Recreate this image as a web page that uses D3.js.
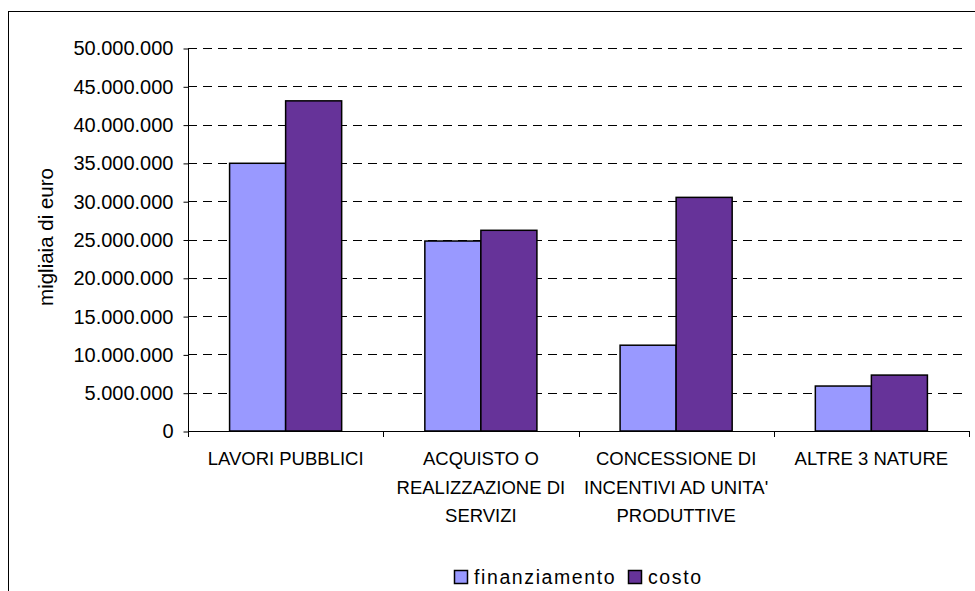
<!DOCTYPE html>
<html>
<head>
<meta charset="utf-8">
<script src="https://cdn.jsdelivr.net/npm/d3@7"></script>
<style>
  html, body { margin: 0; padding: 0; background: #fff; }
  svg { display: block; font-family: "Liberation Sans", Arial, sans-serif; }
</style>
</head>
<body>
<svg id="chart" width="975" height="591"></svg>
<script>
// Categories (each entry is the list of label lines under the axis)
const categories = ["LAVORI PUBBLICI", "ACQUISTO O REALIZZAZIONE DI SERVIZI", "CONCESSIONE DI INCENTIVI AD UNITA' PRODUTTIVE", "ALTRE 3 NATURE"];
const categoryLines = [
  ["LAVORI PUBBLICI"],
  ["ACQUISTO O", "REALIZZAZIONE DI", "SERVIZI"],
  ["CONCESSIONE DI", "INCENTIVI AD UNITA'", "PRODUTTIVE"],
  ["ALTRE 3 NATURE"]
];
const seriesNames = ["finanziamento", "costo"];
const finanziamento = [34950000, 24800000, 11200000, 5870000];
const costo = [43100000, 26200000, 30500000, 7300000];
const yTicks = [0, 5000000, 10000000, 15000000, 20000000, 25000000, 30000000, 35000000, 40000000, 45000000, 50000000];
const yTitle = "migliaia di euro";
const colors = ["#9999FF", "#663399"];

const svg = d3.select("#chart");

// Outer chart frame
svg.append("rect")
  .attr("x", 8.5).attr("y", 11.5)
  .attr("width", 1000).attr("height", 1000)
  .attr("fill", "none").attr("stroke", "#000").attr("stroke-width", 1);

const plot = { left: 188, right: 969, top: 48, bottom: 431 };

const y = d3.scaleLinear().domain([0, 50000000]).range([plot.bottom, plot.top]);
const x0 = d3.scaleBand().domain(categories).range([plot.left, plot.right]).paddingInner(0).paddingOuter(0);
const groupW = x0.bandwidth() * 0.574;
const x1 = d3.scaleBand().domain(seriesNames).range([0, groupW]).padding(0);

const fmt = v => d3.format(",")(v).replace(/,/g, ".");

// Dashed gridlines
svg.append("g")
  .selectAll("line")
  .data(yTicks.filter(t => t > 0))
  .join("line")
  .attr("x1", plot.left).attr("x2", 965)
  .attr("y1", d => Math.round(y(d)) + 0.5).attr("y2", d => Math.round(y(d)) + 0.5)
  .attr("stroke", "#000").attr("stroke-width", 1)
  .attr("stroke-dasharray", "9,6");

// Bars
const series = [finanziamento, costo];
const groups = svg.append("g")
  .selectAll("g")
  .data(categories)
  .join("g")
  .attr("transform", d => `translate(${x0(d) + (x0.bandwidth() - groupW) / 2},0)`);

groups.selectAll("rect")
  .data((d, i) => seriesNames.map((s, j) => ({ s, v: series[j][i], j })))
  .join("rect")
  .attr("x", d => x1(d.s))
  .attr("y", d => y(d.v))
  .attr("width", x1.bandwidth())
  .attr("height", d => y(0) - y(d.v))
  .attr("fill", d => colors[d.j])
  .attr("stroke", "#000")
  .attr("stroke-width", 1.5);

// Y axis
const yAxis = d3.axisLeft(y).tickValues(yTicks).tickFormat(fmt).tickSize(5).tickPadding(10);
const gy = svg.append("g").attr("transform", `translate(${plot.left + 0.5},0.5)`).call(yAxis);
gy.select(".domain").attr("stroke", "#000").attr("d", `M0,${plot.top}V${plot.bottom}`);
gy.selectAll(".tick line").attr("stroke", "#000");
gy.selectAll("text").attr("font-size", 20).attr("fill", "#000")
  .attr("font-family", "Liberation Sans, Arial, sans-serif");

// X axis
const boundaries = categories.map(c => x0(c)).concat([plot.right]);
const gx = svg.append("g");
gx.append("line")
  .attr("x1", plot.left).attr("x2", plot.right + 1)
  .attr("y1", plot.bottom + 0.5).attr("y2", plot.bottom + 0.5)
  .attr("stroke", "#000");
gx.selectAll("line.tick")
  .data(boundaries)
  .join("line")
  .attr("class", "tick")
  .attr("x1", d => Math.round(d) + 0.5).attr("x2", d => Math.round(d) + 0.5)
  .attr("y1", plot.bottom).attr("y2", plot.bottom + 6)
  .attr("stroke", "#000");

// Category labels
svg.append("g")
  .selectAll("text")
  .data(categories)
  .join("text")
  .attr("text-anchor", "middle")
  .attr("font-size", 18.5)
  .attr("fill", "#000")
  .each(function(d, i) {
    const t = d3.select(this);
    categoryLines[i].forEach((line, k) => {
      t.append("tspan")
        .attr("x", x0(d) + x0.bandwidth() / 2)
        .attr("y", 465 + k * 28.5)
        .text(line);
    });
  });

// Y axis title
svg.append("text")
  .attr("transform", `translate(53,237) rotate(-90)`)
  .attr("text-anchor", "middle")
  .attr("font-size", 20.5)
  .attr("fill", "#000")
  .text(yTitle);

// Legend
const legend = svg.append("g");
const legendItems = [
  { name: seriesNames[0], color: colors[0], sx: 454, tx: 474 },
  { name: seriesNames[1], color: colors[1], sx: 628, tx: 648 }
];
legendItems.forEach(it => {
  legend.append("rect")
    .attr("x", it.sx + 0.5).attr("y", 570.5)
    .attr("width", 13).attr("height", 13)
    .attr("fill", it.color).attr("stroke", "#000").attr("stroke-width", 1.5);
  legend.append("text")
    .attr("x", it.tx).attr("y", 584)
    .attr("font-size", 19.5)
    .attr("letter-spacing", 1.6)
    .attr("fill", "#000")
    .text(it.name);
});
</script>
</body>
</html>
